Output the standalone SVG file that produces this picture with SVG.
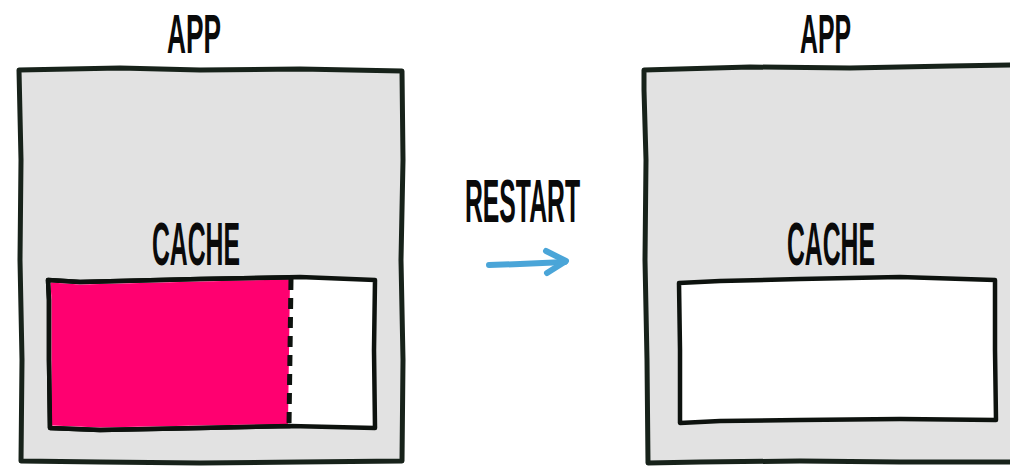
<svg xmlns="http://www.w3.org/2000/svg" width="1010" height="466" viewBox="0 0 1010 466">
<style>
.app{fill:#e2e2e2;stroke:#17221a;stroke-width:5;stroke-linejoin:round}
.cache{fill:#ffffff;stroke:#0d120e;stroke-width:4.5;stroke-linejoin:round}
.lbl{font-family:"Liberation Sans",Arial,sans-serif;font-weight:bold;font-size:62px;fill:#0a0a0a}
.top{font-size:56px}
.arrow{fill:none;stroke:#4aa5d8;stroke-width:6;stroke-linecap:round;stroke-linejoin:round}
</style>
<rect width="1010" height="466" fill="#ffffff"/>
<g id="app-before">
<path class="app" d="M19,70 L120,68 L200,70 L300,69 L402,71 L403,160 L401,260 L403,360 L402,461 L300,462 L200,463 L100,462 L21,461 L22,360 L20,260 L21,160 Z"/>
<text class="lbl top" x="167" y="53" textLength="54" lengthAdjust="spacingAndGlyphs">APP</text>
</g>
<g id="cache-before">
<text class="lbl" x="152" y="265" textLength="88" lengthAdjust="spacingAndGlyphs">CACHE</text>
<path class="cache" d="M48,280 L80,282 L200,279 L300,277 L375,280 L374,350 L375,428 L290,426 L200,428 L100,430 L50,428 L49,360 L49,300 Z"/>
<path fill="#ff0070" d="M50.5,282.5 L80,284.5 L200,281.5 L290,279.5 L288,424 L200,425.5 L100,427.5 L52,425.5 L51.5,360 L51.5,300 Z"/>
<path fill="none" stroke="#0d120e" stroke-width="4.5" stroke-linejoin="round" stroke-linecap="round" d="M290,277.5 L200,279 L80,282 L48,280 L49,300 L49,360 L50,428 L100,430 L200,428 L290,426"/>
<path fill="none" stroke="#0d120e" stroke-width="5" stroke-dasharray="11,8" d="M291,279 L289,426"/>
</g>
<g id="restart-label">
<text class="lbl" x="465" y="222" textLength="115" lengthAdjust="spacingAndGlyphs">RESTART</text>
</g>
<g id="connectors">
<path class="arrow" d="M489,265 L520,264 L565,262"/>
<path class="arrow" d="M546,251 L566,261 L547,273"/>
</g>
<g id="app-after">
<path class="app" d="M644,70 L750,67 L850,68 L950,66 L1014,65 L1014,462 L900,462 L800,461 L700,462 L648,463 L647,360 L645,260 L646,160 L644,90 Z"/>
<text class="lbl top" x="800" y="53" textLength="51" lengthAdjust="spacingAndGlyphs">APP</text>
</g>
<g id="cache-after">
<text class="lbl" x="787" y="265" textLength="88" lengthAdjust="spacingAndGlyphs">CACHE</text>
<path class="cache" d="M679,283 L720,281 L800,279 L900,277 L995,280 L995,350 L996,420 L900,419 L800,420 L720,421 L680,423 L680,350 Z"/>
</g>
</svg>
